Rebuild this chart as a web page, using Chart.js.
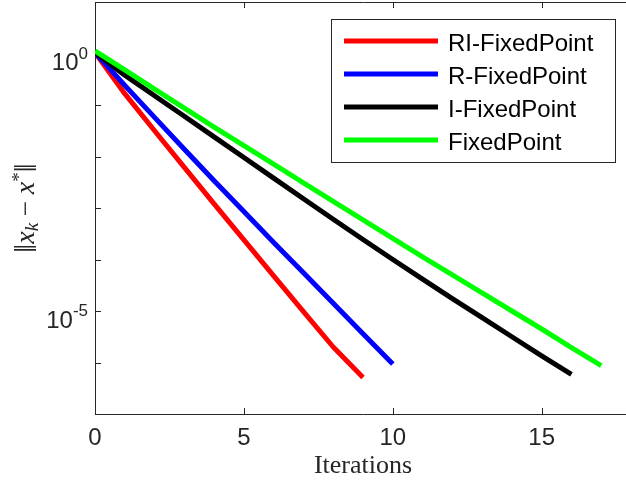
<!DOCTYPE html>
<html>
<head>
<meta charset="utf-8">
<script src="https://cdn.jsdelivr.net/npm/chart.js@4.4.1/dist/chart.umd.min.js"></script>
<style>
  html, body { margin: 0; padding: 0; background: #fff; overflow: hidden; }
  #wrap { position: absolute; left: 0; top: 0; width: 640px; height: 485px; }
</style>
</head>
<body>
<div id="wrap"><canvas id="errPlot" width="640" height="485"></canvas></div>
<script>
const iterations = [0, 1, 2, 3, 4, 5, 6, 7, 8, 9, 10, 11, 12, 13, 14, 15, 16, 17];

const riFixedPoint = [1.05, 1.66e-1, 3.16e-2, 6.17e-3, 1.20e-3, 2.40e-4, 4.79e-5, 9.77e-6, 2.00e-6, 5.13e-7];
const rFixedPoint = [1.05, 2.40e-1, 5.75e-2, 1.38e-2, 3.39e-3, 8.51e-4, 2.14e-4, 5.50e-5, 1.41e-5, 3.63e-6, 9.33e-7];
const iFixedPoint = [1.05, 3.80e-1, 1.51e-1, 6.03e-2, 2.40e-2, 9.55e-3, 3.80e-3, 1.51e-3, 6.03e-4, 2.45e-4,
    1.00e-4, 4.17e-5, 1.74e-5, 7.41e-6, 3.16e-6, 1.35e-6, 5.89e-7];
const fixedPoint = [1.12, 4.79e-1, 2.04e-1, 8.71e-2, 3.72e-2, 1.62e-2, 7.08e-3, 3.09e-3, 1.35e-3, 5.89e-4,
    2.57e-4, 1.12e-4, 5.01e-5, 2.24e-5, 1.00e-5, 4.47e-6, 1.95e-6, 8.71e-7];

const xTicks = [0, 5, 10, 15];
const yTicks = [1e-7, 1e-6, 1e-5, 1e-4, 1e-3, 1e-2, 1e-1, 1e0, 1e1];
const yLabels = { '1': '0', '0.00001': '-5' };   // value -> exponent shown

const axisColor = '#262626';

function toPoints(values) {
    return values.map((v, i) => ({ x: iterations[i], y: v }));
}

// frame, inside ticks, y labels with exponent, y title, legend box
const axesPlugin = {
    id: 'axesPlugin',
    beforeDatasetsDraw(chart) {
        const ctx = chart.ctx;
        const a = chart.chartArea;
        const xs = chart.scales.x, ys = chart.scales.y;
        ctx.save();
        ctx.strokeStyle = axisColor;
        ctx.lineWidth = 1;
        ctx.beginPath();
        ctx.moveTo(a.left + 0.5, a.bottom + 0.5);
        ctx.lineTo(a.left + 0.5, a.top + 0.5);
        ctx.lineTo(a.right + 0.5, a.top + 0.5);
        ctx.lineTo(a.right + 0.5, a.bottom + 0.5);
        ctx.lineTo(a.left + 0.5, a.bottom + 0.5);
        xTicks.forEach(t => {
            const p = Math.round(xs.getPixelForValue(t)) + 0.5;
            ctx.moveTo(p, a.bottom); ctx.lineTo(p, a.bottom - 6);
            ctx.moveTo(p, a.top); ctx.lineTo(p, a.top + 6);
        });
        yTicks.forEach(t => {
            const p = Math.round(ys.getPixelForValue(t)) + 0.5;
            ctx.moveTo(a.left, p); ctx.lineTo(a.left + 6, p);
        });
        ctx.stroke();
        ctx.restore();
    },
    afterDraw(chart) {
        const ctx = chart.ctx;
        const a = chart.chartArea;
        const ys = chart.scales.y;
        ctx.save();
        ctx.fillStyle = axisColor;
        ctx.textBaseline = 'alphabetic';
        ctx.textAlign = 'right';
        yTicks.forEach(t => {
            const ex = yLabels[String(t)];
            if (ex === undefined) return;
            const p = ys.getPixelForValue(t);
            const right = a.left - 7;
            ctx.font = '17px "Liberation Sans", Arial, sans-serif';
            const w = ctx.measureText(ex).width;
            ctx.fillText(ex, right, p + 5);
            ctx.font = '24px "Liberation Sans", Arial, sans-serif';
            ctx.fillText('10', right - w, p + 16.5);
        });

        // y axis title: ||x_k - x^*||
        const parts = [
            { t: '\u2016', f: '32px "Liberation Serif", serif', dy: 2 },
            { t: 'x', f: 'italic 28px "Liberation Serif", serif', dy: 0 },
            { t: 'k', f: 'italic 19px "Liberation Serif", serif', dy: 4 },
            { t: ' \u2212 ', f: '27px "Liberation Serif", serif', dy: 0 },
            { t: 'x', f: 'italic 28px "Liberation Serif", serif', dy: 0 },
            { t: '*', f: '19px "Liberation Serif", serif', dy: -9 },
            { t: '\u2016', f: '32px "Liberation Serif", serif', dy: 2 }
        ];
        let total = 0;
        parts.forEach(pt => { ctx.font = pt.f; pt.w = ctx.measureText(pt.t).width; total += pt.w; });
        const cy = (a.top + a.bottom) / 2;
        ctx.translate(34, cy);
        ctx.rotate(-Math.PI / 2);
        ctx.textAlign = 'left';
        let x = -total / 2;
        parts.forEach(pt => {
            ctx.font = pt.f;
            ctx.fillText(pt.t, x, pt.dy);
            x += pt.w;
        });
        ctx.restore();

        // legend box
        ctx.save();
        ctx.fillStyle = '#fff';
        ctx.fillRect(331.5, 19.5, 284, 143);
        ctx.strokeStyle = axisColor;
        ctx.lineWidth = 1;
        ctx.strokeRect(331.5, 19.5, 284, 143);
        chart.data.datasets.forEach((ds, row) => {
            const y = 41 + 33 * row;
            ctx.strokeStyle = ds.borderColor;
            ctx.lineWidth = 5;
            ctx.beginPath();
            ctx.moveTo(344, y);
            ctx.lineTo(438, y);
            ctx.stroke();
            ctx.fillStyle = '#000';
            ctx.font = '24px "Liberation Sans", Arial, sans-serif';
            ctx.textAlign = 'left';
            ctx.textBaseline = 'alphabetic';
            ctx.fillText(ds.label, 448, y + 10);
        });
        ctx.restore();
    }
};

new Chart(document.getElementById('errPlot'), {
    type: 'line',
    data: {
        datasets: [
            { label: 'RI-FixedPoint', data: toPoints(riFixedPoint), borderColor: '#ff0000', order: 3 },
            { label: 'R-FixedPoint', data: toPoints(rFixedPoint), borderColor: '#0000ff', order: 2 },
            { label: 'I-FixedPoint', data: toPoints(iFixedPoint), borderColor: '#000000', order: 1 },
            { label: 'FixedPoint', data: toPoints(fixedPoint), borderColor: '#00ff00', order: 0 }
        ]
    },
    options: {
        responsive: false,
        animation: false,
        devicePixelRatio: 1,
        layout: { padding: { left: 0, top: 2, right: 9, bottom: 0 } },
        elements: {
            line: { borderWidth: 5, tension: 0, borderCapStyle: 'butt', borderJoinStyle: 'round' },
            point: { radius: 0, hoverRadius: 0 }
        },
        plugins: {
            legend: { display: false },
            tooltip: { enabled: false }
        },
        scales: {
            x: {
                type: 'linear',
                min: 0,
                max: 18,
                afterBuildTicks: s => { s.ticks = xTicks.map(v => ({ value: v })); },
                afterFit: s => { s.height = 71; },
                grid: { display: false, drawTicks: false },
                border: { display: false },
                ticks: {
                    padding: 10,
                    color: axisColor,
                    font: { family: '"Liberation Sans", Arial, sans-serif', size: 24 }
                },
                title: {
                    display: true,
                    text: 'Iterations',
                    color: axisColor,
                    padding: { top: 4, bottom: 3 },
                    font: { family: '"Liberation Serif", "Times New Roman", serif', size: 26 }
                }
            },
            y: {
                type: 'logarithmic',
                min: 1e-7,
                max: 1e1,
                afterBuildTicks: s => { s.ticks = yTicks.map(v => ({ value: v })); },
                afterFit: s => { s.width = 95; },
                grid: { display: false, drawTicks: false },
                border: { display: false },
                ticks: { display: false }
            }
        }
    },
    plugins: [axesPlugin]
});
</script>
</body>
</html>
